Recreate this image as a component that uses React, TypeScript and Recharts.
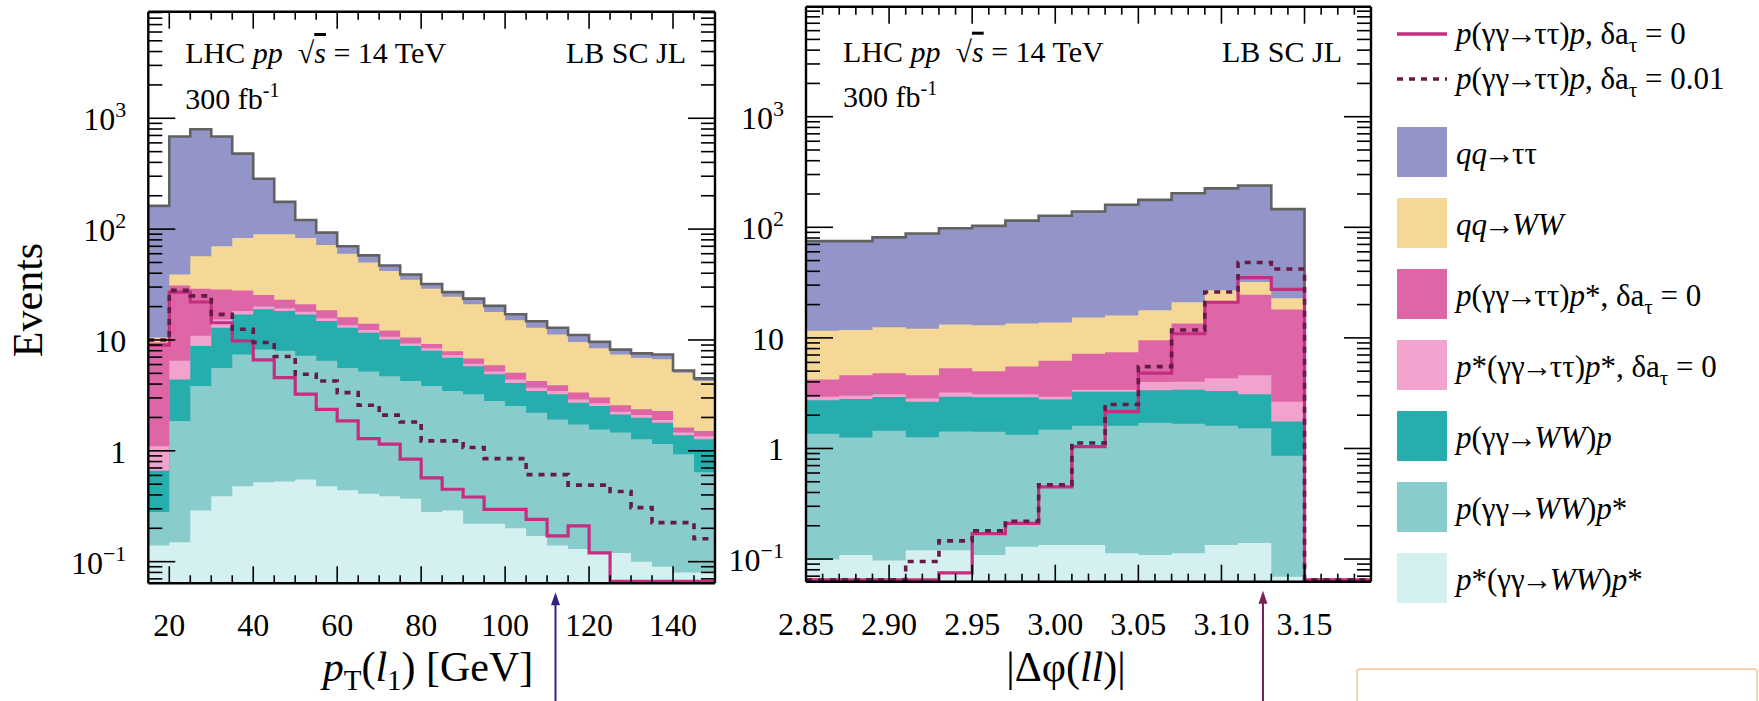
import React from 'react';
import { ComposedChart, Area, Line, XAxis, YAxis, ReferenceDot } from 'recharts';

const FONT = "'Liberation Serif', 'Times New Roman', Times, serif";

// ---------- colours ----------
const C_QQTT = '#9394C8';
const C_QQWW = '#F5D896';
const C_PTTPS = '#DE66A6';
const C_PSTTPS = '#F1A3CD';
const C_PWWP = '#27ADAD';
const C_PWWPS = '#88CCCC';
const C_PSWWPS = '#D4F0F1';
const C_SOLID = '#C52D80';
const C_DOTTED = '#661A45';
const C_OUTLINE = '#616161';

// ---------- left panel : pT(l1) ----------
const ptEdges = [15, 20, 25, 30, 35, 40, 45, 50, 55, 60, 65, 70, 75, 80, 85, 90, 95, 100, 105, 110, 115, 120, 125, 130, 135, 140, 145, 150];
const ptXDomain: [number, number] = [15, 150];
const ptYDomain: [number, number] = [0.0638, 9150];
const ptMajorTicks = [20, 40, 60, 80, 100, 120, 140];
const ptTickLabels = ['20', '40', '60', '80', '100', '120', '140'];
const ptMinorTicks = [25, 30, 35, 45, 50, 55, 65, 70, 75, 85, 90, 95, 105, 110, 115, 125, 130, 135, 145];
const ptCut = 112;

const pt_pSWWpS = [0.14, 0.15, 0.29, 0.39, 0.48, 0.52, 0.53, 0.55, 0.48, 0.44, 0.41, 0.39, 0.37, 0.28, 0.29, 0.22, 0.22, 0.2, 0.17, 0.14, 0.13, 0.12, 0.12, 0.1, 0.09, 0.08, 0.08];
const pt_pWWpS = [0.14, 1.71, 3.56, 5.21, 6.92, 7.68, 7.47, 6.65, 6.02, 5.16, 4.79, 4.31, 3.9, 3.57, 3.18, 3.02, 2.6, 2.34, 2.04, 1.78, 1.6, 1.44, 1.34, 1.17, 1.06, 0.85, 0.56];
const pt_pWWp = [0.38, 2.54, 4.95, 7.3, 9.6, 10.7, 10.3, 9.8, 8.3, 7.3, 6.4, 5.4, 4.53, 4.15, 3.43, 2.56, 2.08, 1.56, 1.26, 1.32, 0.99, 0.98, 0.67, 0.72, 0.64, 0.45, 0.63];
const pt_pSTTpS = [0.44, 2.1, 2.1, 2.4, 1.3, 1.1, 1.0, 1.0, 0.9, 0.7, 0.7, 0.6, 0.5, 0.4, 0.4, 0.3, 0.3, 0.3, 0.23, 0.23, 0.18, 0.14, 0.12, 0.11, 0.11, 0.08, 0.08];
const pt_pTTpS = [8.4, 24.5, 18.1, 13.2, 9.7, 5.5, 3.7, 3.0, 2.8, 2.4, 1.7, 1.5, 1.2, 0.8, 0.6, 0.7, 0.7, 0.67, 0.57, 0.43, 0.45, 0.34, 0.33, 0.27, 0.39, 0.16, 0.16];
const pt_qqWW = [1.0, 8, 28, 41.5, 55, 64.5, 67, 62, 53.5, 44, 36, 29.8, 24.5, 19.8, 16.6, 14.2, 12, 10, 8.6, 7.3, 6.25, 5.4, 4.8, 4.5, 4.4, 3.45, 2.76];
const pt_qqTT = [151.5, 646, 739, 615, 397, 195, 86, 38, 21, 10, 8, 5, 4, 3, 2.5, 2.6, 2.4, 2.0, 1.9, 1.7, 1.5, 1.2, 0.8, 0.7, 0.7, 0.23, 0.23];
const pt_sig0 = [9, 27, 22, 14.3, 9.8, 6.6, 4.57, 3.24, 2.37, 1.86, 1.29, 1.15, 0.84, 0.57, 0.45, 0.383, 0.296, 0.296, 0.241, 0.171, 0.21, 0.12, 0, 0, 0, 0, 0];
const pt_sig01 = [10, 28, 25, 17, 12.5, 9.5, 7.1, 4.9, 4.27, 3.35, 2.58, 2.1, 1.82, 1.23, 1.23, 1.07, 0.85, 0.85, 0.61, 0.61, 0.49, 0.49, 0.43, 0.307, 0.225, 0.225, 0.161];

// ---------- right panel : |delta phi(ll)| ----------
const dpEdges = [2.85, 2.87, 2.89, 2.91, 2.93, 2.95, 2.97, 2.99, 3.01, 3.03, 3.05, 3.07, 3.09, 3.11, 3.13, 3.15];
const dpXDomain: [number, number] = [2.85, 3.19];
const dpYDomain: [number, number] = [0.0624, 9880];
const dpMajorTicks = [2.85, 2.9, 2.95, 3.0, 3.05, 3.1, 3.15];
const dpTickLabels = ['2.85', '2.90', '2.95', '3.00', '3.05', '3.10', '3.15'];
const dpMinorTicks = [2.86, 2.87, 2.88, 2.89, 2.91, 2.92, 2.93, 2.94, 2.96, 2.97, 2.98, 2.99, 3.01, 3.02, 3.03, 3.04, 3.06, 3.07, 3.08, 3.09, 3.11, 3.12, 3.13, 3.14, 3.16, 3.17, 3.18];
const dpCut = 3.125;

const dp_pSWWpS = [0.099, 0.109, 0.097, 0.12, 0.12, 0.109, 0.129, 0.134, 0.134, 0.113, 0.109, 0.113, 0.134, 0.14, 0.069];
const dp_pWWpS = [1.26, 1.15, 1.35, 1.14, 1.3, 1.31, 1.2, 1.34, 1.47, 1.49, 1.6, 1.56, 1.47, 1.38, 0.79];
const dp_pWWp = [1.37, 1.54, 1.48, 1.38, 1.51, 1.48, 1.57, 1.3, 1.65, 1.65, 1.66, 1.73, 1.7, 1.58, 0.89];
const dp_pSTTpS = [0.2, 0.2, 0.17, 0.19, 0.27, 0.2, 0.2, 0.16, 0.15, 0.15, 0.63, 0.6, 1.0, 1.5, 0.89];
const dp_pTTpS = [1.27, 1.6, 1.7, 1.77, 2.1, 1.9, 2.4, 3.27, 3.8, 4.0, 5.5, 9.5, 16.7, 19.9, 15.4];
const dp_qqWW = [7.4, 7.2, 7.7, 7.5, 7.9, 8, 8, 7.6, 8.1, 8.5, 8.3, 7.5, 6, 7.5, 4.8];
const dp_qqTT = [63.4, 63.2, 68.5, 75.9, 84.8, 90, 101.5, 113.2, 123.7, 144.1, 159.2, 182, 198, 207, 123.2];
const dp_sig0 = [0, 0, 0, 0, 0.075, 0.17, 0.21, 0.45, 1.04, 2.15, 4.8, 10.9, 21, 35, 27.5];
const dp_sig01 = [0, 0, 0, 0.095, 0.146, 0.18, 0.22, 0.47, 1.12, 2.5, 5.5, 11.8, 26, 48, 42];

// ---------- shared y ticks ----------
const yMajorTicks = [0.1, 1, 10, 100, 1000];
const yTickBase = ['10', '1', '10', '10', '10'];
const yTickExp = ['\u22121', '', '', '2', '3'];
const yMinorTicks = [0.07, 0.08, 0.09, 0.2, 0.3, 0.4, 0.5, 0.6, 0.7, 0.8, 0.9, 2, 3, 4, 5, 6, 7, 8, 9, 20, 30, 40, 50, 60, 70, 80, 90, 200, 300, 400, 500, 600, 700, 800, 900, 2000, 3000, 4000, 5000, 6000, 7000, 8000, 9000];

type Layer = { key: string; values: number[]; color: string };

const layerColors = [C_PSWWPS, C_PWWPS, C_PWWP, C_PSTTPS, C_PTTPS, C_QQWW, C_QQTT];
const ptLayers: Layer[] = [pt_pSWWpS, pt_pWWpS, pt_pWWp, pt_pSTTpS, pt_pTTpS, pt_qqWW, pt_qqTT].map((v, i) => ({ key: 'c' + i, values: v, color: layerColors[i] }));
const dpLayers: Layer[] = [dp_pSWWpS, dp_pWWpS, dp_pWWp, dp_pSTTpS, dp_pTTpS, dp_qqWW, dp_qqTT].map((v, i) => ({ key: 'c' + i, values: v, color: layerColors[i] }));

// empty bins are drawn on the axis floor (just above the frame, as in the original)
function buildRows(edges: number[], layers: Layer[], sig0: number[], sig01: number[], yMin: number, xMax: number) {
  const floor = yMin * 1.04;
  const n = edges.length - 1;
  const mk = (x: number, i: number) => {
    const r: Record<string, number> = { x };
    let cum = 0;
    layers.forEach((l) => {
      cum += l.values[i];
      r[l.key] = Math.max(cum, yMin);
    });
    r.sig0 = Math.max(sig0[i], floor);
    r.sig01 = Math.max(sig01[i], floor);
    return r;
  };
  const rows: Record<string, number>[] = [];
  for (let i = 0; i < n; i++) rows.push(mk(edges[i], i));
  rows.push(mk(edges[n], n - 1));
  if (xMax > edges[n]) {
    const empty: Record<string, number> = { x: edges[n], sig0: floor, sig01: floor };
    layers.forEach((l) => (empty[l.key] = yMin));
    rows.push(empty);
    rows.push({ ...empty, x: xMax });
  }
  return rows;
}

const ptRows = buildRows(ptEdges, ptLayers, pt_sig0, pt_sig01, ptYDomain[0], ptXDomain[1]);
const dpRows = buildRows(dpEdges, dpLayers, dp_sig0, dp_sig01, dpYDomain[0], dpXDomain[1]);

const YTickLabel = (props: any) => {
  const { x, y, index } = props;
  const exp = yTickExp[index];
  return (
    <text x={x} y={y + 12} textAnchor="end" fontFamily={FONT} fontSize={32} fill="#000">
      {yTickBase[index]}
      {exp ? (
        <tspan dy={-13} fontSize={22}>
          {exp}
        </tspan>
      ) : null}
    </text>
  );
};

const makeXTick = (labels: string[]) => (props: any) => {
  const { x, y, index } = props;
  return (
    <text x={x} y={y} dy={23} textAnchor="middle" fontFamily={FONT} fontSize={32} fill="#000">
      {labels[index]}
    </text>
  );
};

const EmptyTick = () => <g />;

const makeArrow = (color: string) => (props: any) => {
  const { cx, cy } = props;
  return (
    <g>
      <line x1={cx} y1={cy + 18} x2={cx} y2={cy + 140} stroke={color} strokeWidth={2} />
      <polygon points={`${cx},${cy + 9} ${cx - 4.5},${cy + 22} ${cx + 4.5},${cy + 22}`} fill={color} />
    </g>
  );
};

type PanelProps = {
  rows: Record<string, number>[];
  layers: Layer[];
  xDomain: [number, number];
  yDomain: [number, number];
  xMajor: number[];
  xMinor: number[];
  xLabels: string[];
  left: number;
  width: number;
  margin: { top: number; right: number; bottom: number; left: number };
  yAxisWidth: number;
  cut: number;
  cutColor: string;
};

const EPS = 0.01;

function Panel(p: PanelProps) {
  const tl = { stroke: '#000', strokeWidth: 1.6 };
  const frame = { stroke: '#000', strokeWidth: 2.4 };
  const xAxes = [
    { id: 'xbM', o: 'bottom', t: p.xMajor, s: 17, l: frame },
    { id: 'xbm', o: 'bottom', t: p.xMinor, s: 8, l: false },
    { id: 'xtM', o: 'top', t: p.xMajor, s: 17, l: frame },
    { id: 'xtm', o: 'top', t: p.xMinor, s: 8, l: false },
  ];
  const yAxes = [
    { id: 'ylM', o: 'left', t: yMajorTicks, s: 27, l: frame },
    { id: 'ylm', o: 'left', t: yMinorTicks, s: 14, l: false },
    { id: 'yrM', o: 'right', t: yMajorTicks, s: 27, l: frame },
    { id: 'yrm', o: 'right', t: yMinorTicks, s: 14, l: false },
  ];
  const layersTopFirst = p.layers.slice().reverse();
  const totalKey = p.layers[p.layers.length - 1].key;
  return (
    <div style={{ position: 'absolute', left: p.left, top: 0 }}>
      <ComposedChart width={p.width} height={701} data={p.rows} margin={p.margin}>
        {layersTopFirst.map((l) => (
          <Area
            key={l.key}
            xAxisId="xb"
            yAxisId="yl"
            type="stepAfter"
            dataKey={l.key}
            fill={l.color}
            fillOpacity={1}
            stroke="none"
            dot={false}
            activeDot={false}
            isAnimationActive={false}
          />
        ))}
        <Line xAxisId="xb" yAxisId="yl" type="stepAfter" dataKey={totalKey} stroke={C_OUTLINE} strokeWidth={2.6} dot={false} activeDot={false} isAnimationActive={false} />
        <Line xAxisId="xb" yAxisId="yl" type="stepAfter" dataKey="sig0" stroke={C_SOLID} strokeWidth={3.2} dot={false} activeDot={false} isAnimationActive={false} />
        <Line xAxisId="xb" yAxisId="yl" type="stepAfter" dataKey="sig01" stroke={C_DOTTED} strokeWidth={3.6} strokeDasharray="6 6" dot={false} activeDot={false} isAnimationActive={false} />
        <XAxis
          xAxisId="xb"
          dataKey="x"
          type="number"
          domain={p.xDomain}
          allowDataOverflow
          ticks={p.xMajor}
          interval={0}
          height={60}
          tickSize={0}
          tickMargin={30}
          tickLine={false}
          axisLine={false}
          tick={makeXTick(p.xLabels)}
        />
        <YAxis
          yAxisId="yl"
          type="number"
          scale="log"
          domain={p.yDomain}
          allowDataOverflow
          ticks={yMajorTicks}
          interval={0}
          width={p.yAxisWidth}
          tickSize={0}
          tickMargin={22}
          tickLine={false}
          axisLine={false}
          tick={YTickLabel}
        />
        {xAxes.map((a) => (
          <XAxis
            key={a.id}
            xAxisId={a.id}
            orientation={a.o as any}
            mirror
            height={EPS}
            dataKey="x"
            type="number"
            domain={p.xDomain}
            allowDataOverflow
            ticks={a.t}
            interval={0}
            tick={EmptyTick}
            tickSize={a.s}
            tickLine={tl}
            axisLine={a.l as any}
          />
        ))}
        {yAxes.map((a) => (
          <YAxis
            key={a.id}
            yAxisId={a.id}
            orientation={a.o as any}
            mirror
            width={EPS}
            type="number"
            scale="log"
            domain={p.yDomain}
            allowDataOverflow
            ticks={a.t}
            interval={0}
            tick={EmptyTick}
            tickSize={a.s}
            tickLine={tl}
            axisLine={a.l as any}
          />
        ))}
        <ReferenceDot xAxisId="xb" yAxisId="yl" x={p.cut} y={p.yDomain[0]} ifOverflow="visible" shape={makeArrow(p.cutColor)} />
      </ComposedChart>
    </div>
  );
}

// ---------- legend ----------
type LegendItem = { kind: 'solid' | 'dotted' | 'box'; color: string; label: React.ReactNode };
const Sub = ({ children }: { children: React.ReactNode }) => (
  <tspan dy={8} fontSize={21}>
    {children}
  </tspan>
);
const dA = (v: string) => (
  <>
    {'\u03B4a'}
    <Sub>{'\u03C4'}</Sub>
    <tspan dy={-8}>{' = ' + v}</tspan>
  </>
);
const I = ({ children }: { children: React.ReactNode }) => <tspan fontStyle="italic">{children}</tspan>;
const Arr = () => <tspan dx={-3}>{'\u2192'}</tspan>;
const TT = () => <tspan dx={-3}>ττ</tspan>;
const WW = () => (
  <tspan dx={-3} fontStyle="italic">
    WW
  </tspan>
);

const legendItems: LegendItem[] = [
  { kind: 'solid', color: C_SOLID, label: <><I>p</I>(γγ<Arr /><TT />)<I>p</I>, {dA('0')}</> },
  { kind: 'dotted', color: C_DOTTED, label: <><I>p</I>(γγ<Arr /><TT />)<I>p</I>, {dA('0.01')}</> },
  { kind: 'box', color: C_QQTT, label: <><I>qq</I><Arr /><TT /></> },
  { kind: 'box', color: C_QQWW, label: <><I>qq</I><Arr /><WW /></> },
  { kind: 'box', color: C_PTTPS, label: <><I>p</I>(γγ<Arr /><TT />)<I>p</I>*, {dA('0')}</> },
  { kind: 'box', color: C_PSTTPS, label: <><I>p</I>*(γγ<Arr /><TT />)<I>p</I>*, {dA('0')}</> },
  { kind: 'box', color: C_PWWP, label: <><I>p</I>(γγ<Arr /><WW />)<I>p</I></> },
  { kind: 'box', color: C_PWWPS, label: <><I>p</I>(γγ<Arr /><WW />)<I>p</I>*</> },
  { kind: 'box', color: C_PSWWPS, label: <><I>p</I>*(γγ<Arr /><WW />)<I>p</I>*</> },
];

function LegendBlock() {
  const x0 = 1397;
  const textX = 1456;
  return (
    <g fontFamily={FONT} fontSize={31} fill="#000">
      {legendItems.map((it, i) => {
        if (it.kind !== 'box') {
          const cy = 34 + i * 45;
          return (
            <g key={i}>
              <line x1={x0} x2={x0 + 50} y1={cy} y2={cy} stroke={it.color} strokeWidth={3.5} strokeDasharray={it.kind === 'dotted' ? '6 6' : undefined} />
              <text x={textX} y={cy + 10}>{it.label}</text>
            </g>
          );
        }
        const top = 127 + (i - 2) * 71;
        return (
          <g key={i}>
            <rect x={x0} y={top} width={50} height={50} fill={it.color} />
            <text x={textX} y={top + 37}>{it.label}</text>
          </g>
        );
      })}
    </g>
  );
}

function PanelText({ left, right, base1, base2 }: { left: number; right: number; base1: number; base2: number }) {
  return (
    <g fontFamily={FONT} fontSize={30} fill="#000">
      <text x={left + 37} y={base1}>
        LHC <I>pp</I>
        {'\u2002\u221A'}
        <tspan fontStyle="italic" textDecoration="overline">s</tspan>
        {' = 14 TeV'}
      </text>
      <text x={right - 29} y={base1} textAnchor="end">
        LB SC JL
      </text>
      <text x={left + 37} y={base2}>
        300 fb
        <tspan dy={-12} fontSize={20}>-1</tspan>
      </text>
    </g>
  );
}

export default function App() {
  return (
    <div style={{ position: 'absolute', left: 0, top: 0, width: 1759, height: 701, background: '#fff', overflow: 'hidden' }}>
      <Panel
        rows={ptRows}
        layers={ptLayers}
        xDomain={ptXDomain}
        yDomain={ptYDomain}
        xMajor={ptMajorTicks}
        xMinor={ptMinorTicks}
        xLabels={ptTickLabels}
        left={0}
        width={720}
        margin={{ top: 11.7, right: 5, bottom: 57.7, left: 0 }}
        yAxisWidth={148.3}
        cut={ptCut}
        cutColor="#2E2380"
      />
      <Panel
        rows={dpRows}
        layers={dpLayers}
        xDomain={dpXDomain}
        yDomain={dpYDomain}
        xMajor={dpMajorTicks}
        xMinor={dpMinorTicks}
        xLabels={dpTickLabels}
        left={720}
        width={655}
        margin={{ top: 6.7, right: 4, bottom: 59.3, left: 0 }}
        yAxisWidth={86}
        cut={dpCut}
        cutColor="#7A2358"
      />
      <svg width={1759} height={701} style={{ position: 'absolute', left: 0, top: 0, pointerEvents: 'none' }}>
        <text transform="translate(42,300) rotate(-90)" textAnchor="middle" fontFamily={FONT} fontSize={42} fill="#000">
          Events
        </text>
        <text x={428} y={681} textAnchor="middle" fontFamily={FONT} fontSize={42} fill="#000">
          <I>p</I>
          <tspan dy={9} fontSize={29}>T</tspan>
          <tspan dy={-9}>(</tspan>
          <I>l</I>
          <tspan dy={9} fontSize={29}>1</tspan>
          <tspan dy={-9}>) [GeV]</tspan>
        </text>
        <text x={1066} y={681} textAnchor="middle" fontFamily={FONT} fontSize={42} fill="#000">
          |Δφ(<I>ll</I>)|
        </text>
        <PanelText left={148.3} right={715} base1={63} base2={109} />
        <PanelText left={806} right={1371} base1={61.7} base2={106.7} />
        <LegendBlock />
        <rect x={1357} y={669} width={400} height={40} rx={3} fill="none" stroke="#F7C597" strokeWidth={1.5} />
      </svg>
    </div>
  );
}
